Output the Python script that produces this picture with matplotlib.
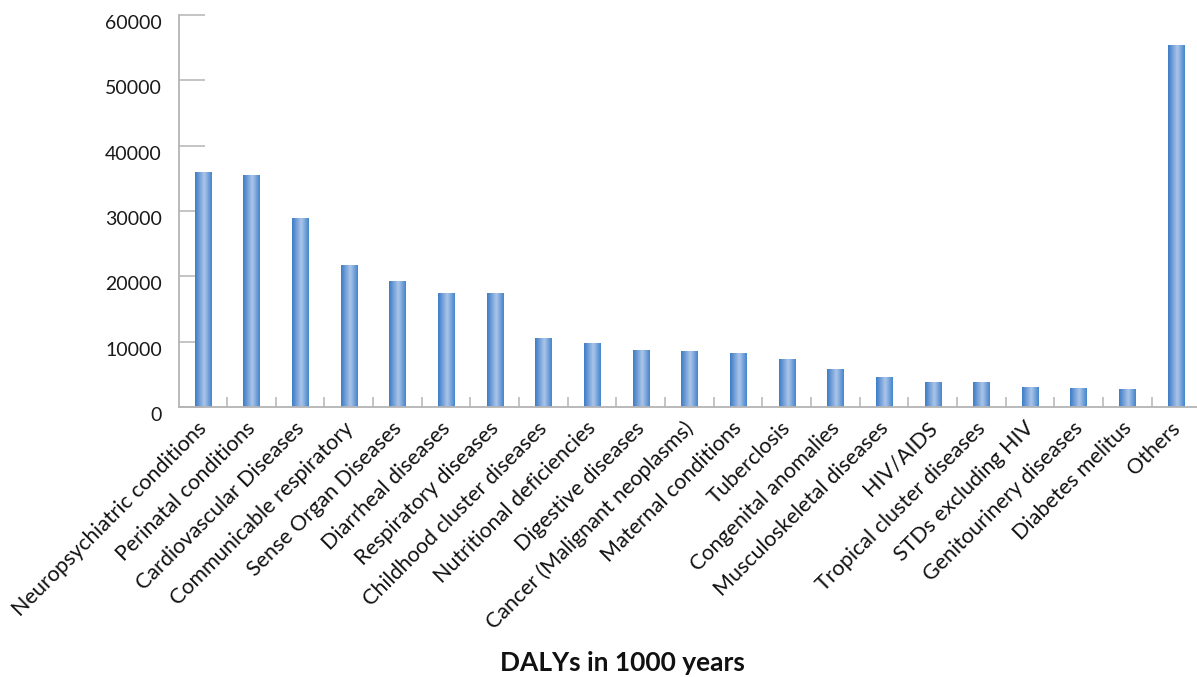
import numpy as np
import matplotlib
matplotlib.use("Agg")
import matplotlib.pyplot as plt
import matplotlib.transforms as mtransforms
from matplotlib.colors import LinearSegmentedColormap

categories = [
    "Neuropsychiatric conditions", "Perinatal conditions", "Cardiovascular Diseases",
    "Communicable respiratory", "Sense Organ Diseases", "Diarrheal diseases",
    "Respiratory diseases", "Childhood cluster diseases", "Nutritional deficiencies",
    "Digestive diseases", "Cancer (Malignant neoplasms)", "Maternal conditions",
    "Tuberclosis", "Congenital anomalies", "Musculoskeletal diseases", "HIV/AIDS",
    "Tropical cluster diseases", "STDs excluding HIV", "Genitourinery diseases",
    "Diabetes melitus", "Others",
]
dalys = [36000, 35500, 28900, 21700, 19300, 17450, 17450, 10560, 9800, 8720,
         8570, 8270, 7350, 5820, 4590, 3830, 3830, 3060, 2910, 2760, 55400]
y_ticks = [0, 10000, 20000, 30000, 40000, 50000, 60000]
x_title = "DALYs in 1000 years"

W, H = 1197, 677
fig = plt.figure(figsize=(W / 100, H / 100), dpi=100)
left, top, bottom = 178.5 / W, 1 - 15 / H, 1 - 407 / H
ax = fig.add_axes([left, bottom, 1 - left, top - bottom])

n = len(categories)
x = np.arange(n)
bar_w = 0.33
bars = ax.bar(x, dalys, width=bar_w, facecolor="none", edgecolor="none", zorder=2)

# cylinder-like horizontal shading for every bar
shade = LinearSegmentedColormap.from_list(
    "cyl", [(0.0, "#3b7bc6"), (0.55, "#adc6ea"), (1.0, "#4585cc")])
grad = np.linspace(0, 1, 64).reshape(1, -1)
for rect in bars:
    x0, w, h = rect.get_x(), rect.get_width(), rect.get_height()
    im = ax.imshow(grad, cmap=shade, aspect="auto", extent=[x0, x0 + w, 0, h],
                   interpolation="bicubic", zorder=2)
    im.set_clip_path(rect)

ax.set_xlim(-0.5, (W - 178.5) / ((1176 - 203) / 20) - 0.5)
ax.set_ylim(0, 60000)

for s in ("top", "right"):
    ax.spines[s].set_visible(False)
for s in ("left", "bottom"):
    ax.spines[s].set_color("#b4b4b4")
    ax.spines[s].set_linewidth(1.3)

# y axis: ticks pointing into the plot, labels offset slightly down
ax.set_yticks(y_ticks)
ax.set_yticklabels([str(v) for v in y_ticks], fontsize=14, family="Lato")
ax.tick_params(axis="y", direction="in", length=19, width=1.1, color="#b4b4b4",
               pad=12, labelcolor="#1a1a1a")
offset = mtransforms.ScaledTranslation(0, -7 / 100, fig.dpi_scale_trans)
for lbl in ax.get_yticklabels():
    lbl.set_transform(lbl.get_transform() + offset)

# x axis: small tick marks between categories, rotated category names
ax.set_xticks(x)
ax.set_xticklabels(categories, rotation=45, ha="right", rotation_mode="anchor",
                   fontsize=15.5, family="Lato", color="#111111")
ax.tick_params(axis="x", which="major", length=0, pad=8)
ax.set_xticks(np.arange(0.5, n - 0.5), minor=True)
ax.tick_params(axis="x", which="minor", direction="in", length=7.5, width=1.1,
               color="#b4b4b4")
xoff = mtransforms.ScaledTranslation(-6 / 100, 0, fig.dpi_scale_trans)
for lbl in ax.get_xticklabels():
    lbl.set_transform(lbl.get_transform() + xoff)

fig.text(622 / W, 1 - 663 / H, x_title, ha="center", va="center",
         fontsize=19, fontweight="bold", family="Lato", color="#111111")

fig.savefig("out.png", dpi=100, facecolor="white")
